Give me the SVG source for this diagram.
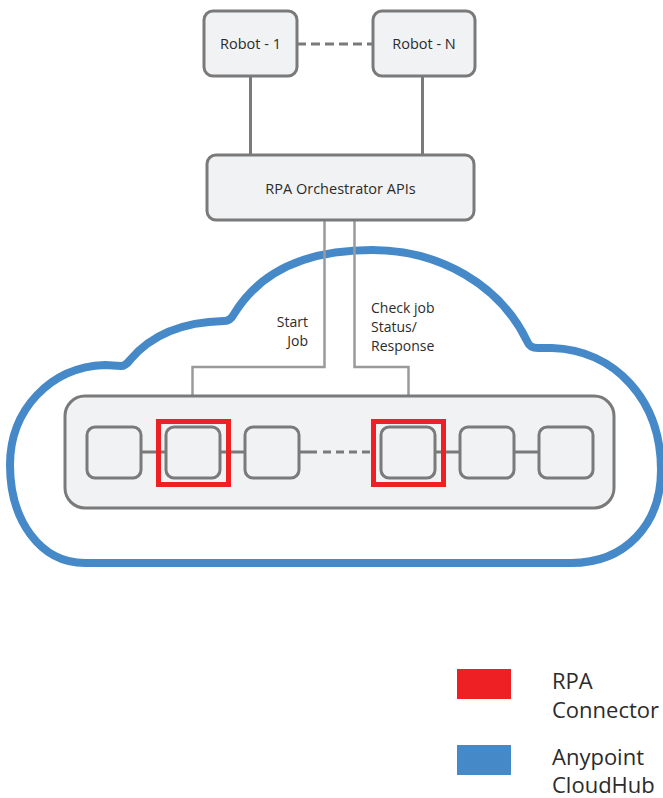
<svg xmlns="http://www.w3.org/2000/svg" width="663" height="798" viewBox="0 0 663 798">
<style>
.box{fill:#f1f2f4;stroke:#7a7a7a;stroke-width:3}
.sm{fill:#f1f2f4;stroke:#7a7a7a;stroke-width:3}
.link{stroke:#7a7a7a;stroke-width:3;fill:none}
.conn{stroke:#9a9a9a;stroke-width:2.5;fill:none}
.red{fill:none;stroke:#ee2024;stroke-width:5}
.t{font-family:"Open Sans","Noto Sans",sans-serif;fill:#2b2b2b}
</style>
<rect width="663" height="798" fill="#ffffff"/>
<g id="cloud">
<path d="M 85 563 C 40 563, 10 520, 10 465 C 10 410, 50 367, 105 365 L 121 366 C 124 366, 127 364, 130 360 C 150 336, 180 322, 224 321 C 229 321, 232 318, 234 314 C 262 268, 310 250, 372 250 C 440 250, 500 285, 527 341 C 529 346, 532 348, 538 348 L 552 348 C 615 350, 661 400, 661 470 C 661 525, 625 563, 571 563 Z" fill="#ffffff" stroke="#4589c8" stroke-width="8" stroke-linejoin="round"/>
</g>
<g id="connectors">
<line class="link" x1="297" y1="44" x2="373" y2="44" stroke-dasharray="9,5"/>
<line class="link" x1="250.5" y1="76" x2="250.5" y2="155"/>
<line class="link" x1="422.5" y1="76" x2="422.5" y2="155"/>
<polyline class="conn" points="324.5,220 324.5,367 192.5,367 192.5,427"/>
<polyline class="conn" points="354.5,220 354.5,367 408.5,367 408.5,427"/>
</g>
<g id="robot1"><rect class="box" x="204" y="11" width="93" height="65" rx="9"/><text class="t" x="250.5" y="49" font-size="14.5" text-anchor="middle">Robot - 1</text></g>
<g id="robotN"><rect class="box" x="373" y="11" width="102" height="65" rx="9"/><text class="t" x="424" y="49" font-size="14.5" text-anchor="middle">Robot - N</text></g>
<g id="orchestrator"><rect class="box" x="207" y="155" width="267" height="65" rx="9"/><text class="t" x="340.5" y="194" font-size="14.5" text-anchor="middle">RPA Orchestrator APIs</text></g>
<g id="labels">
<text class="t" x="308" y="327" font-size="14" text-anchor="end">Start</text>
<text class="t" x="308" y="346" font-size="14" text-anchor="end">Job</text>
<text class="t" x="371" y="313" font-size="14">Check job</text>
<text class="t" x="371" y="332" font-size="14">Status/</text>
<text class="t" x="371" y="351" font-size="14">Response</text>
</g>
<g id="app">
<rect class="box" x="65" y="396" width="549" height="112" rx="20"/>
<g id="app-links">
<line class="link" x1="141" y1="452" x2="166" y2="452"/>
<line class="link" x1="220" y1="452" x2="245" y2="452"/>
<line class="link" x1="299" y1="452" x2="317" y2="452"/>
<line class="link" x1="323" y1="452" x2="370" y2="452" stroke-dasharray="8,5"/>
<line class="link" x1="435" y1="452" x2="460" y2="452"/>
<line class="link" x1="514" y1="452" x2="539" y2="452"/>
</g>
<g id="n1"><rect class="sm" x="87" y="427" width="54" height="51" rx="8"/></g>
<g id="n2"><rect class="sm" x="166" y="427" width="54" height="51" rx="8"/></g>
<g id="n3"><rect class="sm" x="245" y="427" width="54" height="51" rx="8"/></g>
<g id="n4"><rect class="sm" x="381" y="427" width="54" height="51" rx="8"/></g>
<g id="n5"><rect class="sm" x="460" y="427" width="54" height="51" rx="8"/></g>
<g id="n6"><rect class="sm" x="539" y="427" width="54" height="51" rx="8"/></g>
<rect class="red" x="158.5" y="421.5" width="70" height="63"/>
<rect class="red" x="373.5" y="421.5" width="70" height="63"/>
</g>
<g id="legend">
<rect x="457" y="669" width="54" height="30" fill="#ee2024"/>
<text class="t" x="552" y="689" font-size="22">RPA</text>
<text class="t" x="552" y="718" font-size="22">Connector</text>
<rect x="457" y="745" width="54" height="30" fill="#4589c8"/>
<text class="t" x="552" y="765" font-size="22">Anypoint</text>
<text class="t" x="552" y="793" font-size="22">CloudHub</text>
</g>
</svg>
